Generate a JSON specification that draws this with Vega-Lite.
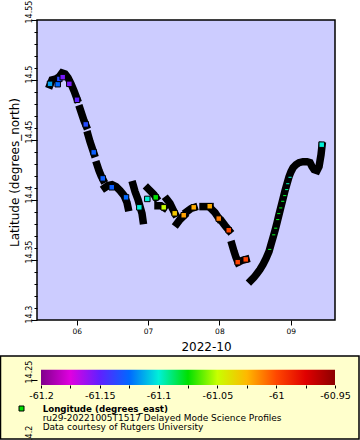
{
  "$schema": "https://vega.github.io/schema/vega-lite/v6.json",
  "width": 298,
  "height": 420,
  "autosize": {"type": "none"},
  "padding": {"left": 37, "top": 20, "right": 25, "bottom": 0},
  "background": "white",
  "config": {
    "view": {"stroke": null},
    "font": "DejaVu Sans",
    "axis": {"grid": false, "labelColor": "black", "tickColor": "black", "titleColor": "black", "titleFontWeight": "normal", "labelFont": "DejaVu Sans", "titleFont": "DejaVu Sans"}
  },
  "datasets": {
    "track": [
      {"s": 1, "t": "2022-10-05T15:01:00Z", "lat": 14.4960},
      {"s": 1, "t": "2022-10-05T15:41:00Z", "lat": 14.5001},
      {"s": 1, "t": "2022-10-05T17:02:00Z", "lat": 14.5009},
      {"s": 1, "t": "2022-10-05T18:03:00Z", "lat": 14.5026},
      {"s": 1, "t": "2022-10-05T19:03:00Z", "lat": 14.5059},
      {"s": 1, "t": "2022-10-05T20:04:00Z", "lat": 14.5051},
      {"s": 1, "t": "2022-10-05T21:04:00Z", "lat": 14.5018},
      {"s": 1, "t": "2022-10-05T22:05:00Z", "lat": 14.4968},
      {"s": 1, "t": "2022-10-05T23:05:00Z", "lat": 14.4910},
      {"s": 1, "t": "2022-10-06T00:06:00Z", "lat": 14.4843},
      {"s": 2, "t": "2022-10-06T01:07:00Z", "lat": 14.4760},
      {"s": 2, "t": "2022-10-06T01:47:00Z", "lat": 14.4710},
      {"s": 2, "t": "2022-10-06T02:27:00Z", "lat": 14.4660},
      {"s": 2, "t": "2022-10-06T03:08:00Z", "lat": 14.4619},
      {"s": 3, "t": "2022-10-06T03:48:00Z", "lat": 14.4544},
      {"s": 3, "t": "2022-10-06T04:28:00Z", "lat": 14.4486},
      {"s": 3, "t": "2022-10-06T05:09:00Z", "lat": 14.4436},
      {"s": 3, "t": "2022-10-06T05:49:00Z", "lat": 14.4386},
      {"s": 4, "t": "2022-10-06T06:50:00Z", "lat": 14.4294},
      {"s": 4, "t": "2022-10-06T07:30:00Z", "lat": 14.4245},
      {"s": 4, "t": "2022-10-06T08:11:00Z", "lat": 14.4203},
      {"s": 4, "t": "2022-10-06T08:51:00Z", "lat": 14.4170},
      {"s": 5, "t": "2022-10-06T09:31:00Z", "lat": 14.4103},
      {"s": 5, "t": "2022-10-06T10:32:00Z", "lat": 14.4120},
      {"s": 5, "t": "2022-10-06T11:53:00Z", "lat": 14.4128},
      {"s": 5, "t": "2022-10-06T13:13:00Z", "lat": 14.4111},
      {"s": 5, "t": "2022-10-06T14:34:00Z", "lat": 14.4078},
      {"s": 5, "t": "2022-10-06T15:55:00Z", "lat": 14.4037},
      {"s": 5, "t": "2022-10-06T16:55:00Z", "lat": 14.3978},
      {"s": 5, "t": "2022-10-06T17:16:00Z", "lat": 14.3937},
      {"s": 6, "t": "2022-10-06T18:57:00Z", "lat": 14.4128},
      {"s": 6, "t": "2022-10-06T19:37:00Z", "lat": 14.4070},
      {"s": 6, "t": "2022-10-06T20:38:00Z", "lat": 14.4003},
      {"s": 6, "t": "2022-10-06T21:18:00Z", "lat": 14.3945},
      {"s": 6, "t": "2022-10-06T21:58:00Z", "lat": 14.3887},
      {"s": 6, "t": "2022-10-06T22:18:00Z", "lat": 14.3829},
      {"s": 7, "t": "2022-10-06T23:59:00Z", "lat": 14.4095},
      {"s": 7, "t": "2022-10-07T01:00:00Z", "lat": 14.4070},
      {"s": 7, "t": "2022-10-07T02:00:00Z", "lat": 14.4045},
      {"s": 7, "t": "2022-10-07T02:41:00Z", "lat": 14.4020},
      {"s": 8, "t": "2022-10-07T03:21:00Z", "lat": 14.3953},
      {"s": 8, "t": "2022-10-07T04:22:00Z", "lat": 14.3953},
      {"s": 8, "t": "2022-10-07T05:22:00Z", "lat": 14.3937},
      {"s": 9, "t": "2022-10-07T06:23:00Z", "lat": 14.4003},
      {"s": 9, "t": "2022-10-07T07:24:00Z", "lat": 14.3970},
      {"s": 9, "t": "2022-10-07T08:24:00Z", "lat": 14.3920},
      {"s": 9, "t": "2022-10-07T09:04:00Z", "lat": 14.3887},
      {"s": 10, "t": "2022-10-07T09:45:00Z", "lat": 14.3804},
      {"s": 10, "t": "2022-10-07T10:45:00Z", "lat": 14.3837},
      {"s": 10, "t": "2022-10-07T12:06:00Z", "lat": 14.3870},
      {"s": 11, "t": "2022-10-07T13:07:00Z", "lat": 14.3904},
      {"s": 11, "t": "2022-10-07T14:27:00Z", "lat": 14.3929},
      {"s": 11, "t": "2022-10-07T15:28:00Z", "lat": 14.3937},
      {"s": 12, "t": "2022-10-07T18:30:00Z", "lat": 14.3945},
      {"s": 12, "t": "2022-10-07T19:30:00Z", "lat": 14.3945},
      {"s": 12, "t": "2022-10-07T20:51:00Z", "lat": 14.3945},
      {"s": 13, "t": "2022-10-07T21:31:00Z", "lat": 14.3920},
      {"s": 13, "t": "2022-10-07T22:32:00Z", "lat": 14.3895},
      {"s": 13, "t": "2022-10-07T23:53:00Z", "lat": 14.3845},
      {"s": 14, "t": "2022-10-08T00:53:00Z", "lat": 14.3820},
      {"s": 14, "t": "2022-10-08T01:54:00Z", "lat": 14.3787},
      {"s": 14, "t": "2022-10-08T03:15:00Z", "lat": 14.3746},
      {"s": 15, "t": "2022-10-08T04:15:00Z", "lat": 14.3629},
      {"s": 15, "t": "2022-10-08T04:56:00Z", "lat": 14.3571},
      {"s": 15, "t": "2022-10-08T05:36:00Z", "lat": 14.3521},
      {"s": 15, "t": "2022-10-08T06:16:00Z", "lat": 14.3480},
      {"s": 15, "t": "2022-10-08T07:37:00Z", "lat": 14.3496},
      {"s": 15, "t": "2022-10-08T08:58:00Z", "lat": 14.3505},
      {"s": 16, "t": "2022-10-08T10:39:00Z", "lat": 14.3330},
      {"s": 16, "t": "2022-10-08T11:39:00Z", "lat": 14.3355},
      {"s": 16, "t": "2022-10-08T12:40:00Z", "lat": 14.3388},
      {"s": 16, "t": "2022-10-08T13:40:00Z", "lat": 14.3421},
      {"s": 16, "t": "2022-10-08T14:41:00Z", "lat": 14.3463},
      {"s": 16, "t": "2022-10-08T15:42:00Z", "lat": 14.3513},
      {"s": 16, "t": "2022-10-08T16:42:00Z", "lat": 14.3571},
      {"s": 16, "t": "2022-10-08T17:22:00Z", "lat": 14.3629},
      {"s": 16, "t": "2022-10-08T18:03:00Z", "lat": 14.3687},
      {"s": 16, "t": "2022-10-08T18:43:00Z", "lat": 14.3746},
      {"s": 16, "t": "2022-10-08T19:24:00Z", "lat": 14.3812},
      {"s": 16, "t": "2022-10-08T20:04:00Z", "lat": 14.3879},
      {"s": 16, "t": "2022-10-08T20:44:00Z", "lat": 14.3945},
      {"s": 16, "t": "2022-10-08T21:25:00Z", "lat": 14.4012},
      {"s": 16, "t": "2022-10-08T22:05:00Z", "lat": 14.4078},
      {"s": 16, "t": "2022-10-08T22:45:00Z", "lat": 14.4136},
      {"s": 16, "t": "2022-10-08T23:26:00Z", "lat": 14.4195},
      {"s": 16, "t": "2022-10-09T00:06:00Z", "lat": 14.4236},
      {"s": 16, "t": "2022-10-09T00:47:00Z", "lat": 14.4269},
      {"s": 16, "t": "2022-10-09T01:47:00Z", "lat": 14.4294},
      {"s": 16, "t": "2022-10-09T02:48:00Z", "lat": 14.4311},
      {"s": 16, "t": "2022-10-09T04:08:00Z", "lat": 14.4319},
      {"s": 16, "t": "2022-10-09T05:29:00Z", "lat": 14.4319},
      {"s": 16, "t": "2022-10-09T06:30:00Z", "lat": 14.4311},
      {"s": 16, "t": "2022-10-09T07:10:00Z", "lat": 14.4278},
      {"s": 16, "t": "2022-10-09T07:51:00Z", "lat": 14.4253},
      {"s": 16, "t": "2022-10-09T08:51:00Z", "lat": 14.4245},
      {"s": 16, "t": "2022-10-09T09:32:00Z", "lat": 14.4278},
      {"s": 16, "t": "2022-10-09T09:52:00Z", "lat": 14.4328},
      {"s": 16, "t": "2022-10-09T10:12:00Z", "lat": 14.4378},
      {"s": 16, "t": "2022-10-09T10:32:00Z", "lat": 14.4452}
    ],
    "marks": [
      {"t": "2022-10-05T15:01:00Z", "lat": 14.4968, "lon": -61.115},
      {"t": "2022-10-05T17:36:00Z", "lat": 14.4965, "lon": -61.125},
      {"t": "2022-10-05T18:09:00Z", "lat": 14.5009, "lon": -61.135},
      {"t": "2022-10-05T19:17:00Z", "lat": 14.5024, "lon": -61.155},
      {"t": "2022-10-05T21:31:00Z", "lat": 14.4968, "lon": -61.155},
      {"t": "2022-10-06T00:06:00Z", "lat": 14.4835, "lon": -61.15},
      {"t": "2022-10-06T03:02:00Z", "lat": 14.4630, "lon": -61.135},
      {"t": "2022-10-06T05:43:00Z", "lat": 14.4397, "lon": -61.128},
      {"t": "2022-10-06T08:45:00Z", "lat": 14.4180, "lon": -61.128},
      {"t": "2022-10-06T11:47:00Z", "lat": 14.4106, "lon": -61.128},
      {"t": "2022-10-06T16:35:00Z", "lat": 14.4022, "lon": -61.125},
      {"t": "2022-10-06T21:04:00Z", "lat": 14.3939, "lon": -61.1},
      {"t": "2022-10-06T23:45:00Z", "lat": 14.4009, "lon": -61.1},
      {"t": "2022-10-07T02:35:00Z", "lat": 14.4022, "lon": -61.075},
      {"t": "2022-10-07T05:16:00Z", "lat": 14.3939, "lon": -61.05},
      {"t": "2022-10-07T08:58:00Z", "lat": 14.3889, "lon": -61.03},
      {"t": "2022-10-07T12:00:00Z", "lat": 14.3873, "lon": -61.02},
      {"t": "2022-10-07T15:22:00Z", "lat": 14.3939, "lon": -61.022},
      {"t": "2022-10-07T20:45:00Z", "lat": 14.3948, "lon": -61.022},
      {"t": "2022-10-07T23:47:00Z", "lat": 14.3845, "lon": -61.012},
      {"t": "2022-10-08T03:09:00Z", "lat": 14.3748, "lon": -61.0},
      {"t": "2022-10-08T06:10:00Z", "lat": 14.3482, "lon": -60.998},
      {"t": "2022-10-08T08:52:00Z", "lat": 14.3505, "lon": -60.998},
      {"t": "2022-10-09T10:26:00Z", "lat": 14.4461, "lon": -61.1}
    ],
    "dashes": [
      {"t": "2022-10-08T23:46:00Z", "lat": 14.4189, "lon": -61.097},
      {"t": "2022-10-08T23:00:00Z", "lat": 14.4136, "lon": -61.095},
      {"t": "2022-10-08T22:39:00Z", "lat": 14.4087, "lon": -61.09},
      {"t": "2022-10-08T21:59:00Z", "lat": 14.4037, "lon": -61.08},
      {"t": "2022-10-08T21:19:00Z", "lat": 14.3989, "lon": -61.08},
      {"t": "2022-10-08T20:38:00Z", "lat": 14.3934, "lon": -61.078},
      {"t": "2022-10-08T19:58:00Z", "lat": 14.3887, "lon": -61.078},
      {"t": "2022-10-08T19:38:00Z", "lat": 14.3837, "lon": -61.078},
      {"t": "2022-10-08T18:57:00Z", "lat": 14.3765, "lon": -61.078},
      {"t": "2022-10-08T18:17:00Z", "lat": 14.3710, "lon": -61.078},
      {"t": "2022-10-08T16:56:00Z", "lat": 14.3588, "lon": -61.078}
    ]
  },
  "layer": [
    {
      "layer": [
        {
          "data": {"values": [{}]},
          "mark": {"type": "rect", "fill": "#ccccff", "stroke": "black", "strokeWidth": 1.5},
          "encoding": {
            "x": {
              "datum": {"year": 2022, "month": 10, "date": 5, "hours": 10, "minutes": 38, "utc": true},
              "type": "temporal",
              "scale": {"type": "utc", "domain": [{"year": 2022, "month": 10, "date": 5, "hours": 10, "minutes": 38, "utc": true}, {"year": 2022, "month": 10, "date": 9, "hours": 14, "minutes": 54, "utc": true}]},
              "axis": {
                "orient": "bottom",
                "offset": -120,
                "values": [
                  {"year": 2022, "month": 10, "date": 6, "utc": true},
                  {"year": 2022, "month": 10, "date": 7, "utc": true},
                  {"year": 2022, "month": 10, "date": 8, "utc": true},
                  {"year": 2022, "month": 10, "date": 9, "utc": true}
                ],
                "tickCount": 100,
                "labelExpr": "utcFormat(datum.value, '%d')",
                "domain": false,
                "tickSize": 5,
                "labelFontSize": 7.5,
                "labelPadding": 2,
                "labelFlush": false,
                "labelOverlap": false,
                "title": "2022-10",
                "titleFontSize": 12,
                "titleX": 169,
                "titleY": 30,
                "titleAlign": "center",
                "titleBaseline": "alphabetic"
              }
            },
            "x2": {"datum": {"year": 2022, "month": 10, "date": 9, "hours": 14, "minutes": 54, "utc": true}},
            "y": {
              "datum": 14.3,
              "type": "quantitative",
              "scale": {"domain": [14.2, 14.55], "nice": false, "zero": false},
              "axis": {
                "orient": "left",
                "values": [14.2, 14.25, 14.3, 14.31, 14.32, 14.33, 14.34, 14.35, 14.36, 14.37, 14.38, 14.39, 14.4, 14.41, 14.42, 14.43, 14.44, 14.45, 14.46, 14.47, 14.48, 14.49, 14.5, 14.51, 14.52, 14.53, 14.54, 14.55],
                "tickCount": 100,
                "domain": false,
                "tickSize": {"condition": {"test": "abs(datum.value*20-round(datum.value*20))<0.001", "value": 6}, "value": 3},
                "labelExpr": "abs(datum.value*20-round(datum.value*20))<0.001 ? format(datum.value,'~g') : ''",
                "labelAngle": 270,
                "labelAlign": "left",
                "labelBaseline": "alphabetic",
                "labelPadding": 0,
                "labelOffset": 3,
                "labelFontSize": 8,
                "labelOverlap": false,
                "labelFlush": false,
                "title": "Latitude (degrees_north)",
                "titleFontSize": 12,
                "titleAngle": 270,
                "titleX": -18.5,
                "titleY": 152,
                "titleAlign": "center",
                "titleBaseline": "alphabetic",
                "zindex": 1
              }
            },
            "y2": {"datum": 14.55}
          }
        },
        {
          "data": {"name": "track"},
          "mark": {"type": "line", "color": "black", "strokeWidth": 7.5, "strokeCap": "square", "strokeJoin": "miter"},
          "encoding": {
            "x": {"field": "t", "type": "temporal"},
            "y": {"field": "lat", "type": "quantitative"},
            "detail": {"field": "s", "type": "nominal"}
          }
        },
        {
          "data": {"name": "marks"},
          "mark": {"type": "point", "shape": "square", "filled": true, "size": 30, "stroke": "black", "strokeWidth": 1, "opacity": 1},
          "encoding": {
            "x": {"field": "t", "type": "temporal"},
            "y": {"field": "lat", "type": "quantitative"},
            "fill": {
              "field": "lon",
              "type": "quantitative",
              "scale": {
                "domain": [-61.2, -61.175, -61.15, -61.125, -61.1, -61.075, -61.05, -61.025, -61.0, -60.975, -60.95],
                "range": ["#80008c", "#e000e0", "#6020ff", "#0068ff", "#00f0d8", "#00e000", "#c8ff00", "#ffb800", "#ff4800", "#e00000", "#8c0000"],
                "interpolate": "rgb"
              },
              "legend": null
            }
          }
        },
        {
          "data": {"name": "dashes"},
          "mark": {"type": "point", "shape": "M-1,-0.35H1V0.35H-1Z", "filled": true, "size": 10, "strokeWidth": 0, "opacity": 1},
          "encoding": {
            "x": {"field": "t", "type": "temporal"},
            "y": {"field": "lat", "type": "quantitative"},
            "fill": {"field": "lon", "type": "quantitative", "legend": null}
          }
        }
      ]
    },
    {
      "data": {"values": [{}]},
      "layer": [
        {
          "mark": {"type": "rect", "fill": "#ffffcc", "stroke": "black", "strokeWidth": 1.5},
          "encoding": {
            "x": {"datum": -61.23444, "type": "quantitative"},
            "x2": {"datum": -60.92959},
            "y": {"datum": 14.27, "type": "quantitative"},
            "y2": {"datum": 14.20083}
          }
        },
        {
          "mark": {
            "type": "rect",
            "fill": {
              "gradient": "linear", "x1": 0, "y1": 0, "x2": 1, "y2": 0,
              "stops": [
                {"offset": 0, "color": "#80008c"},
                {"offset": 0.1, "color": "#e000e0"},
                {"offset": 0.2, "color": "#6020ff"},
                {"offset": 0.3, "color": "#0068ff"},
                {"offset": 0.4, "color": "#00f0d8"},
                {"offset": 0.5, "color": "#00e000"},
                {"offset": 0.6, "color": "#c8ff00"},
                {"offset": 0.7, "color": "#ffb800"},
                {"offset": 0.8, "color": "#ff4800"},
                {"offset": 0.9, "color": "#e00000"},
                {"offset": 1, "color": "#8c0000"}
              ]
            }
          },
          "encoding": {
            "x": {
              "datum": -61.2,
              "type": "quantitative",
              "scale": {"domain": [-61.2034, -60.95], "nice": false, "zero": false},
              "axis": {
                "orient": "bottom",
                "offset": -55,
                "values": [-61.2, -61.175, -61.15, -61.125, -61.1, -61.075, -61.05, -61.025, -61.0, -60.975, -60.95],
                "tickCount": 100,
                "labelExpr": "abs(datum.value*20-round(datum.value*20))<0.001 ? '-' + format(abs(datum.value),'~g') : ''",
                "domain": false,
                "tickSize": 3,
                "labelFontSize": 9.5,
                "labelPadding": 2,
                "labelFlush": false,
                "labelOverlap": false,
                "title": null,
                "zindex": 1
              }
            },
            "x2": {"datum": -60.95},
            "y": {"datum": 14.25858, "type": "quantitative"},
            "y2": {"datum": 14.24583}
          }
        },
        {
          "mark": {"type": "point", "shape": "square", "filled": true, "size": 25, "fill": "#00e000", "stroke": "black", "strokeWidth": 1, "opacity": 1},
          "encoding": {
            "x": {"datum": -61.21658, "type": "quantitative"},
            "y": {"datum": 14.22625, "type": "quantitative"}
          }
        },
        {
          "mark": {"type": "text", "text": "Longitude (degrees_east)", "font": "DejaVu Sans", "fontSize": 8.7, "fontWeight": "bold", "align": "left", "baseline": "alphabetic", "color": "black"},
          "encoding": {
            "x": {"datum": -61.1986, "type": "quantitative"},
            "y": {"datum": 14.22375, "type": "quantitative"}
          }
        },
        {
          "mark": {"type": "text", "text": "ru29-20221005T1517 Delayed Mode Science Profiles", "font": "DejaVu Sans", "fontSize": 9, "align": "left", "baseline": "alphabetic", "color": "black"},
          "encoding": {
            "x": {"datum": -61.1986, "type": "quantitative"},
            "y": {"datum": 14.21625, "type": "quantitative"}
          }
        },
        {
          "mark": {"type": "text", "text": "Data courtesy of Rutgers University", "font": "DejaVu Sans", "fontSize": 9, "align": "left", "baseline": "alphabetic", "color": "black"},
          "encoding": {
            "x": {"datum": -61.1986, "type": "quantitative"},
            "y": {"datum": 14.20875, "type": "quantitative"}
          }
        }
      ]
    }
  ],
  "resolve": {"scale": {"x": "independent"}, "axis": {"x": "independent"}}
}
